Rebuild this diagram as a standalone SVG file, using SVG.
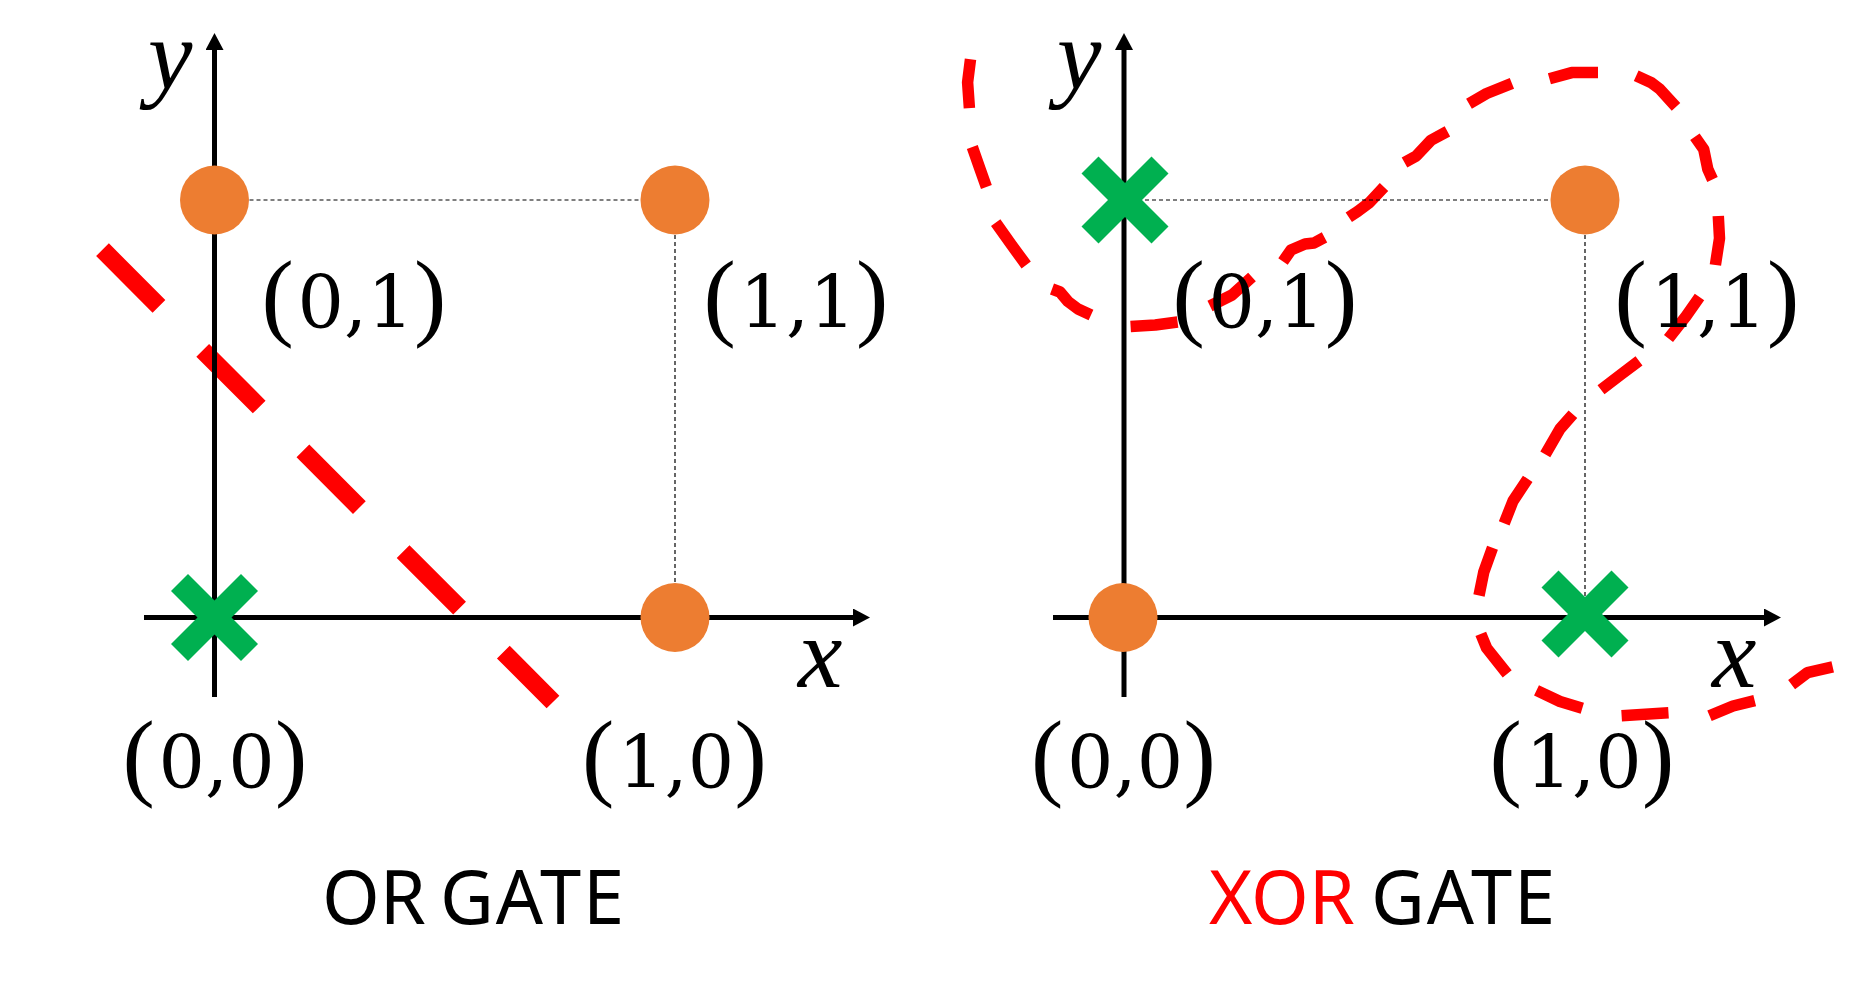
<svg xmlns="http://www.w3.org/2000/svg" xmlns:xlink="http://www.w3.org/1999/xlink" width="1865" height="991" viewBox="0 0 1865 991">
<style>
.axis{stroke:#000;stroke-width:5;fill:none}
.grid{stroke:#000;stroke-width:1.2;stroke-dasharray:4 3;fill:none}
.dot{fill:#ED7D31}
.cross{stroke:#00B050;stroke-width:24;stroke-linecap:butt}
.orline{stroke:#FF0000;stroke-width:18;stroke-dasharray:80 62;fill:none}
.xorcurve path{stroke:#FF0000;stroke-width:11.5;fill:none;stroke-linejoin:round;stroke-linecap:butt}
.lbl{font-family:"DejaVu Serif",serif;font-size:73px;fill:#000}
.par{font-family:"Liberation Serif",serif;font-size:97px}
.var{font-family:"Liberation Serif",serif;font-style:italic;font-size:100px;fill:#000}
.title{font-family:"Noto Sans",sans-serif;font-size:74px;fill:#000}
.wide{letter-spacing:2px}
.red{fill:#FF0000}
</style>
<defs>
<marker id="arr" viewBox="0 0 17 18" refX="7" refY="9" markerWidth="17" markerHeight="18" markerUnits="userSpaceOnUse" orient="auto"><path d="M0,0 L17,9 L0,18 z" fill="#000"/></marker>
<g id="xmark"><line x1="-35" y1="-35" x2="35" y2="35"/><line x1="35" y1="-35" x2="-35" y2="35"/></g>
</defs>
<rect width="1865" height="991" fill="#fff"/>

<!-- decision boundaries -->
<g id="boundaries">
<path class="orline" d="M102.5,249.7 L553,702"/>
<g class="xorcurve">
<path d="M970.5,59.2 L967.6,82.4 L969.4,108.2"/>
<path d="M972.3,147 L979.3,167 L986.4,187"/>
<path d="M995.7,222.7 L1011.6,245 L1026.2,265"/>
<path d="M1052,289 L1060,292 L1068,301.5 L1078,309 L1091,315"/>
<path d="M1130.6,326.5 L1155.3,325 L1177.6,322"/>
<path d="M1210,306 L1232,295 L1252,277"/>
<path d="M1283,261.5 L1291,250 L1305,244 L1314,243 L1324.5,237.4"/>
<path d="M1348.8,217.3 L1357.6,211.5 L1369.4,202.6 L1384,187"/>
<path d="M1404.5,162.5 L1416.3,155.9 L1431,140.3 L1447.4,131.4"/>
<path d="M1469,103.7 L1486.6,93.5 L1511.9,83.3"/>
<path d="M1549.4,78.8 L1571.7,72.6 L1598,72.6"/>
<path d="M1636.2,75.7 L1650.9,82.4 L1659.7,89 L1676,106.9"/>
<path d="M1694.9,136.7 L1703.7,149.2 L1707.8,169.2 L1712.5,179.5"/>
<path d="M1718.3,216 L1719.5,238.3 L1715.4,265"/>
<path d="M1699.5,297 L1686,316.2 L1668.5,338.5"/>
<path d="M1639,360.8 L1621.6,374 L1601,389.7"/>
<path d="M1572.9,414.2 L1560,428.9 L1545.3,454.3"/>
<path d="M1527.7,478.8 L1513,501 L1504.2,523.3"/>
<path d="M1492.5,547.8 L1483.7,572.3 L1479,595.5"/>
<path d="M1480.8,633.8 L1486.6,648 L1507.2,673.9"/>
<path d="M1536.5,690.4 L1560,701.5 L1582.3,708.2"/>
<path d="M1621.6,715.8 L1668.5,712.7"/>
<path d="M1709.5,715.8 L1733,706 L1754.7,700.6"/>
<path d="M1791.6,684.6 L1807.5,672.6 L1832.7,666.8"/>
</g>
</g>

<!-- connectors: guide lines and axes -->
<g id="connectors">
<path class="grid" d="M214.5,200 L675,200 M675,200 L675,617"/>
<path class="grid" d="M1124,200 L1585,200 M1585,200 L1585,614"/>
<path class="axis" d="M214.5,697 L214.5,43" marker-end="url(#arr)"/>
<path class="axis" d="M144,617.5 L860,617.5" marker-end="url(#arr)"/>
<path class="axis" d="M1124,697 L1124,43" marker-end="url(#arr)"/>
<path class="axis" d="M1053,617.5 L1771,617.5" marker-end="url(#arr)"/>
</g>

<g id="axis-labels">
<text class="var" x="148" y="89">y</text>
<text class="var" x="798" y="687">x</text>
<text class="var" x="1057" y="89">y</text>
<text class="var" x="1712" y="687">x</text>
</g>

<!-- OR gate nodes -->
<g id="or-p00">
<use xlink:href="#xmark" class="cross" transform="translate(214.5,617.5)"/>
<text class="lbl" y="788"><tspan class="par" x="122.5">(</tspan><tspan x="158.6">0</tspan><tspan x="205.1">,</tspan><tspan x="228.3">0</tspan><tspan class="par" x="275">)</tspan></text>
</g>
<g id="or-p01">
<circle class="dot" cx="214.5" cy="200" r="34.5"/>
<text class="lbl" y="328"><tspan class="par" x="261.5">(</tspan><tspan x="297.6">0</tspan><tspan x="344.1">,</tspan><tspan x="367.3">1</tspan><tspan class="par" x="414">)</tspan></text>
</g>
<g id="or-p11">
<circle class="dot" cx="675" cy="200" r="34.5"/>
<text class="lbl" y="328"><tspan class="par" x="703.5">(</tspan><tspan x="739.6">1</tspan><tspan x="786.1">,</tspan><tspan x="809.3">1</tspan><tspan class="par" x="856">)</tspan></text>
</g>
<g id="or-p10">
<circle class="dot" cx="675" cy="617.5" r="34.5"/>
<text class="lbl" y="788"><tspan class="par" x="582">(</tspan><tspan x="618.1">1</tspan><tspan x="664.6">,</tspan><tspan x="687.8">0</tspan><tspan class="par" x="734.5">)</tspan></text>
</g>

<!-- XOR gate nodes -->
<g id="xor-p00">
<circle class="dot" cx="1123" cy="617.5" r="34.5"/>
<text class="lbl" y="788"><tspan class="par" x="1031">(</tspan><tspan x="1067.1">0</tspan><tspan x="1113.6">,</tspan><tspan x="1136.8">0</tspan><tspan class="par" x="1183.5">)</tspan></text>
</g>
<g id="xor-p01">
<use xlink:href="#xmark" class="cross" transform="translate(1125,200)"/>
<text class="lbl" y="328"><tspan class="par" x="1172.5">(</tspan><tspan x="1208.6">0</tspan><tspan x="1255.1">,</tspan><tspan x="1278.3">1</tspan><tspan class="par" x="1325">)</tspan></text>
</g>
<g id="xor-p11">
<circle class="dot" cx="1585" cy="200" r="34.5"/>
<text class="lbl" y="328"><tspan class="par" x="1614.5">(</tspan><tspan x="1650.6">1</tspan><tspan x="1697.1">,</tspan><tspan x="1720.3">1</tspan><tspan class="par" x="1767">)</tspan></text>
</g>
<g id="xor-p10">
<use xlink:href="#xmark" class="cross" transform="translate(1585,614)"/>
<text class="lbl" y="788"><tspan class="par" x="1489.5">(</tspan><tspan x="1525.6">1</tspan><tspan x="1572.1">,</tspan><tspan x="1595.3">0</tspan><tspan class="par" x="1642">)</tspan></text>
</g>

<!-- titles -->
<g id="title-or">
<text class="title" y="924"><tspan x="322">OR</tspan><tspan class="wide" x="440">GATE</tspan></text>
</g>
<g id="title-xor">
<text class="title" y="924"><tspan class="red" x="1209">XOR</tspan><tspan class="wide" x="1371">GATE</tspan></text>
</g>
</svg>
